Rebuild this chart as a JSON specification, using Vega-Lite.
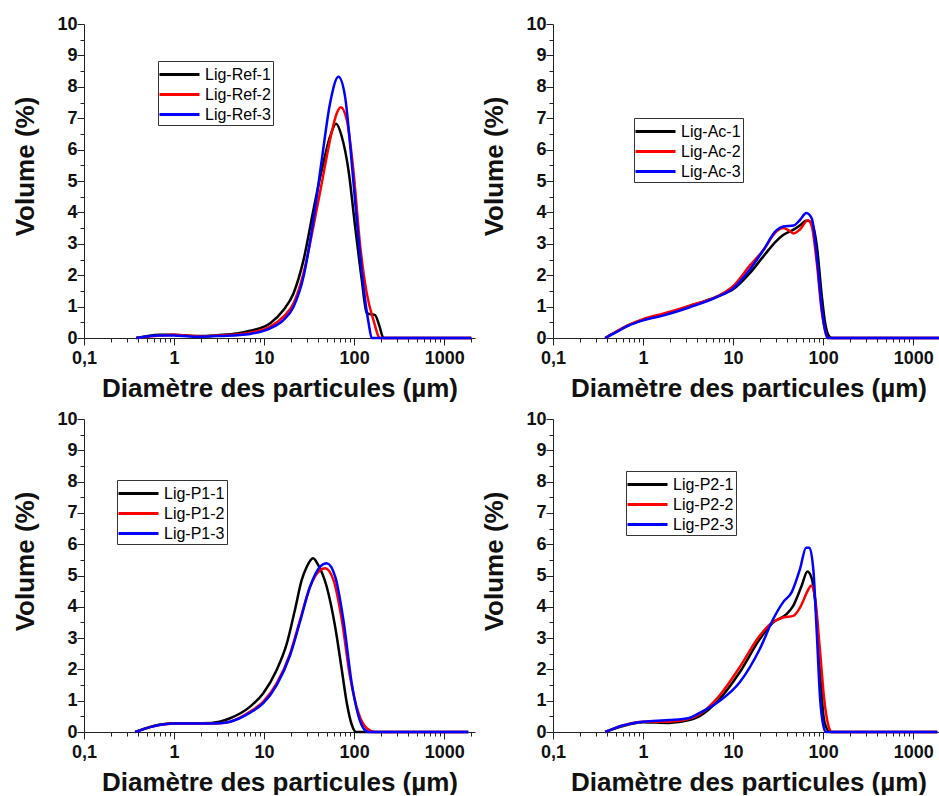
{
"$schema": "https://vega.github.io/schema/vega-lite/v6.json",
"background": "white",
"padding": {"left": 12, "top": 15, "right": 0, "bottom": 0},
"config": {
  "font": "Liberation Sans",
  "view": {"stroke": null},
  "axis": {"grid": false, "domainColor": "#222", "tickColor": "#222", "labelColor": "#111", "titleColor": "#111", "labelFont": "Liberation Sans", "titleFont": "Liberation Sans", "labelFontWeight": "bold", "titleFontWeight": "bold", "labelFontSize": 18, "titleFontSize": 26},
  "legend": {"symbolType": "M-2,0H2", "symbolSize": 400, "symbolStrokeWidth": 3, "symbolOffset": 8, "labelFont": "Liberation Sans", "labelFontSize": 16, "labelColor": "#000", "strokeColor": "#333", "padding": 2, "rowPadding": 0, "labelOffset": 14}
},
"datasets": {"all": [
{"p":"Ref","s":"Lig-Ref-1","d":0.38,"v":0},{"p":"Ref","s":"Lig-Ref-1","d":0.5,"v":0.06},{"p":"Ref","s":"Lig-Ref-1","d":0.7,"v":0.1},{"p":"Ref","s":"Lig-Ref-1","d":1,"v":0.1},{"p":"Ref","s":"Lig-Ref-1","d":1.5,"v":0.07},{"p":"Ref","s":"Lig-Ref-1","d":2,"v":0.06},{"p":"Ref","s":"Lig-Ref-1","d":3,"v":0.09},{"p":"Ref","s":"Lig-Ref-1","d":5,"v":0.14},{"p":"Ref","s":"Lig-Ref-1","d":7,"v":0.23},{"p":"Ref","s":"Lig-Ref-1","d":11.7,"v":0.47},{"p":"Ref","s":"Lig-Ref-1","d":16.4,"v":0.89},{"p":"Ref","s":"Lig-Ref-1","d":21.2,"v":1.42},{"p":"Ref","s":"Lig-Ref-1","d":27.4,"v":2.48},{"p":"Ref","s":"Lig-Ref-1","d":35.3,"v":4.08},{"p":"Ref","s":"Lig-Ref-1","d":43.7,"v":5.35},{"p":"Ref","s":"Lig-Ref-1","d":54,"v":6.41},{"p":"Ref","s":"Lig-Ref-1","d":63,"v":6.82},{"p":"Ref","s":"Lig-Ref-1","d":73,"v":6.41},{"p":"Ref","s":"Lig-Ref-1","d":86.5,"v":5.35},{"p":"Ref","s":"Lig-Ref-1","d":102.6,"v":3.55},{"p":"Ref","s":"Lig-Ref-1","d":121.6,"v":1.85},{"p":"Ref","s":"Lig-Ref-1","d":138,"v":0.79},{"p":"Ref","s":"Lig-Ref-1","d":150,"v":0.76},{"p":"Ref","s":"Lig-Ref-1","d":171,"v":0.73},{"p":"Ref","s":"Lig-Ref-1","d":190,"v":0.4},{"p":"Ref","s":"Lig-Ref-1","d":212,"v":0},{"p":"Ref","s":"Lig-Ref-1","d":300,"v":0},{"p":"Ref","s":"Lig-Ref-1","d":2000,"v":0},
{"p":"Ref","s":"Lig-Ref-2","d":0.38,"v":0},{"p":"Ref","s":"Lig-Ref-2","d":0.5,"v":0.04},{"p":"Ref","s":"Lig-Ref-2","d":0.7,"v":0.08},{"p":"Ref","s":"Lig-Ref-2","d":1,"v":0.1},{"p":"Ref","s":"Lig-Ref-2","d":1.5,"v":0.07},{"p":"Ref","s":"Lig-Ref-2","d":2,"v":0.05},{"p":"Ref","s":"Lig-Ref-2","d":3,"v":0.08},{"p":"Ref","s":"Lig-Ref-2","d":5,"v":0.11},{"p":"Ref","s":"Lig-Ref-2","d":7,"v":0.17},{"p":"Ref","s":"Lig-Ref-2","d":11.7,"v":0.36},{"p":"Ref","s":"Lig-Ref-2","d":16.4,"v":0.68},{"p":"Ref","s":"Lig-Ref-2","d":21.2,"v":1.1},{"p":"Ref","s":"Lig-Ref-2","d":27.4,"v":2.06},{"p":"Ref","s":"Lig-Ref-2","d":35.3,"v":3.55},{"p":"Ref","s":"Lig-Ref-2","d":43.7,"v":4.93},{"p":"Ref","s":"Lig-Ref-2","d":54,"v":6.31},{"p":"Ref","s":"Lig-Ref-2","d":64,"v":7.15},{"p":"Ref","s":"Lig-Ref-2","d":71,"v":7.35},{"p":"Ref","s":"Lig-Ref-2","d":83,"v":6.94},{"p":"Ref","s":"Lig-Ref-2","d":98,"v":5.35},{"p":"Ref","s":"Lig-Ref-2","d":117,"v":2.91},{"p":"Ref","s":"Lig-Ref-2","d":138,"v":1.43},{"p":"Ref","s":"Lig-Ref-2","d":164,"v":0.57},{"p":"Ref","s":"Lig-Ref-2","d":194,"v":0},{"p":"Ref","s":"Lig-Ref-2","d":300,"v":0},{"p":"Ref","s":"Lig-Ref-2","d":2000,"v":0},
{"p":"Ref","s":"Lig-Ref-3","d":0.38,"v":0},{"p":"Ref","s":"Lig-Ref-3","d":0.5,"v":0.05},{"p":"Ref","s":"Lig-Ref-3","d":0.7,"v":0.08},{"p":"Ref","s":"Lig-Ref-3","d":1,"v":0.08},{"p":"Ref","s":"Lig-Ref-3","d":1.5,"v":0.05},{"p":"Ref","s":"Lig-Ref-3","d":2,"v":0.04},{"p":"Ref","s":"Lig-Ref-3","d":3,"v":0.06},{"p":"Ref","s":"Lig-Ref-3","d":5,"v":0.09},{"p":"Ref","s":"Lig-Ref-3","d":7,"v":0.13},{"p":"Ref","s":"Lig-Ref-3","d":11.7,"v":0.31},{"p":"Ref","s":"Lig-Ref-3","d":16.4,"v":0.57},{"p":"Ref","s":"Lig-Ref-3","d":21.2,"v":0.99},{"p":"Ref","s":"Lig-Ref-3","d":27.4,"v":1.95},{"p":"Ref","s":"Lig-Ref-3","d":35.3,"v":3.76},{"p":"Ref","s":"Lig-Ref-3","d":43.7,"v":5.67},{"p":"Ref","s":"Lig-Ref-3","d":54,"v":7.47},{"p":"Ref","s":"Lig-Ref-3","d":67,"v":8.32},{"p":"Ref","s":"Lig-Ref-3","d":79.4,"v":7.68},{"p":"Ref","s":"Lig-Ref-3","d":90,"v":6.2},{"p":"Ref","s":"Lig-Ref-3","d":107,"v":3.76},{"p":"Ref","s":"Lig-Ref-3","d":127,"v":1.63},{"p":"Ref","s":"Lig-Ref-3","d":145,"v":0.47},{"p":"Ref","s":"Lig-Ref-3","d":157,"v":0},{"p":"Ref","s":"Lig-Ref-3","d":300,"v":0},{"p":"Ref","s":"Lig-Ref-3","d":2000,"v":0},
{"p":"Ac","s":"Lig-Ac-1","d":0.38,"v":0},{"p":"Ac","s":"Lig-Ac-1","d":0.5,"v":0.2},{"p":"Ac","s":"Lig-Ac-1","d":0.7,"v":0.42},{"p":"Ac","s":"Lig-Ac-1","d":1,"v":0.58},{"p":"Ac","s":"Lig-Ac-1","d":1.7,"v":0.75},{"p":"Ac","s":"Lig-Ac-1","d":3.3,"v":1.02},{"p":"Ac","s":"Lig-Ac-1","d":6.6,"v":1.32},{"p":"Ac","s":"Lig-Ac-1","d":10,"v":1.55},{"p":"Ac","s":"Lig-Ac-1","d":15.5,"v":2.08},{"p":"Ac","s":"Lig-Ac-1","d":21.7,"v":2.6},{"p":"Ac","s":"Lig-Ac-1","d":30,"v":3.08},{"p":"Ac","s":"Lig-Ac-1","d":36,"v":3.28},{"p":"Ac","s":"Lig-Ac-1","d":47,"v":3.45},{"p":"Ac","s":"Lig-Ac-1","d":55,"v":3.58},{"p":"Ac","s":"Lig-Ac-1","d":66,"v":3.74},{"p":"Ac","s":"Lig-Ac-1","d":75,"v":3.66},{"p":"Ac","s":"Lig-Ac-1","d":85,"v":2.95},{"p":"Ac","s":"Lig-Ac-1","d":97,"v":1.3},{"p":"Ac","s":"Lig-Ac-1","d":105,"v":0.5},{"p":"Ac","s":"Lig-Ac-1","d":114,"v":0.1},{"p":"Ac","s":"Lig-Ac-1","d":125,"v":0},{"p":"Ac","s":"Lig-Ac-1","d":300,"v":0},{"p":"Ac","s":"Lig-Ac-1","d":2200,"v":0},
{"p":"Ac","s":"Lig-Ac-2","d":0.38,"v":0},{"p":"Ac","s":"Lig-Ac-2","d":0.5,"v":0.2},{"p":"Ac","s":"Lig-Ac-2","d":0.7,"v":0.42},{"p":"Ac","s":"Lig-Ac-2","d":1,"v":0.6},{"p":"Ac","s":"Lig-Ac-2","d":1.7,"v":0.78},{"p":"Ac","s":"Lig-Ac-2","d":3.3,"v":1.03},{"p":"Ac","s":"Lig-Ac-2","d":6.6,"v":1.32},{"p":"Ac","s":"Lig-Ac-2","d":10,"v":1.65},{"p":"Ac","s":"Lig-Ac-2","d":15.5,"v":2.32},{"p":"Ac","s":"Lig-Ac-2","d":21.7,"v":2.8},{"p":"Ac","s":"Lig-Ac-2","d":30,"v":3.38},{"p":"Ac","s":"Lig-Ac-2","d":36,"v":3.5},{"p":"Ac","s":"Lig-Ac-2","d":42,"v":3.42},{"p":"Ac","s":"Lig-Ac-2","d":47,"v":3.33},{"p":"Ac","s":"Lig-Ac-2","d":55,"v":3.45},{"p":"Ac","s":"Lig-Ac-2","d":68,"v":3.75},{"p":"Ac","s":"Lig-Ac-2","d":75,"v":3.55},{"p":"Ac","s":"Lig-Ac-2","d":85,"v":2.4},{"p":"Ac","s":"Lig-Ac-2","d":97,"v":0.8},{"p":"Ac","s":"Lig-Ac-2","d":105,"v":0.25},{"p":"Ac","s":"Lig-Ac-2","d":112,"v":0},{"p":"Ac","s":"Lig-Ac-2","d":300,"v":0},{"p":"Ac","s":"Lig-Ac-2","d":2200,"v":0},
{"p":"Ac","s":"Lig-Ac-3","d":0.38,"v":0},{"p":"Ac","s":"Lig-Ac-3","d":0.5,"v":0.18},{"p":"Ac","s":"Lig-Ac-3","d":0.7,"v":0.4},{"p":"Ac","s":"Lig-Ac-3","d":1,"v":0.56},{"p":"Ac","s":"Lig-Ac-3","d":1.7,"v":0.72},{"p":"Ac","s":"Lig-Ac-3","d":3.3,"v":0.98},{"p":"Ac","s":"Lig-Ac-3","d":6.6,"v":1.3},{"p":"Ac","s":"Lig-Ac-3","d":10,"v":1.58},{"p":"Ac","s":"Lig-Ac-3","d":15.5,"v":2.2},{"p":"Ac","s":"Lig-Ac-3","d":21.7,"v":2.8},{"p":"Ac","s":"Lig-Ac-3","d":30,"v":3.42},{"p":"Ac","s":"Lig-Ac-3","d":36,"v":3.55},{"p":"Ac","s":"Lig-Ac-3","d":47,"v":3.58},{"p":"Ac","s":"Lig-Ac-3","d":55,"v":3.75},{"p":"Ac","s":"Lig-Ac-3","d":65,"v":3.98},{"p":"Ac","s":"Lig-Ac-3","d":75,"v":3.8},{"p":"Ac","s":"Lig-Ac-3","d":85,"v":2.6},{"p":"Ac","s":"Lig-Ac-3","d":97,"v":0.9},{"p":"Ac","s":"Lig-Ac-3","d":105,"v":0.25},{"p":"Ac","s":"Lig-Ac-3","d":112,"v":0},{"p":"Ac","s":"Lig-Ac-3","d":300,"v":0},{"p":"Ac","s":"Lig-Ac-3","d":2200,"v":0},
{"p":"P1","s":"Lig-P1-1","d":0.37,"v":0},{"p":"P1","s":"Lig-P1-1","d":0.59,"v":0.19},{"p":"P1","s":"Lig-P1-1","d":1,"v":0.28},{"p":"P1","s":"Lig-P1-1","d":2.1,"v":0.28},{"p":"P1","s":"Lig-P1-1","d":3.2,"v":0.33},{"p":"P1","s":"Lig-P1-1","d":4.19,"v":0.44},{"p":"P1","s":"Lig-P1-1","d":7,"v":0.81},{"p":"P1","s":"Lig-P1-1","d":9.8,"v":1.24},{"p":"P1","s":"Lig-P1-1","d":13.8,"v":1.98},{"p":"P1","s":"Lig-P1-1","d":17.9,"v":2.83},{"p":"P1","s":"Lig-P1-1","d":22,"v":3.9},{"p":"P1","s":"Lig-P1-1","d":26.2,"v":4.86},{"p":"P1","s":"Lig-P1-1","d":29.8,"v":5.28},{"p":"P1","s":"Lig-P1-1","d":35,"v":5.55},{"p":"P1","s":"Lig-P1-1","d":40,"v":5.33},{"p":"P1","s":"Lig-P1-1","d":49.6,"v":4.64},{"p":"P1","s":"Lig-P1-1","d":61.5,"v":3.37},{"p":"P1","s":"Lig-P1-1","d":73,"v":1.98},{"p":"P1","s":"Lig-P1-1","d":83,"v":0.92},{"p":"P1","s":"Lig-P1-1","d":94,"v":0.24},{"p":"P1","s":"Lig-P1-1","d":105,"v":0},{"p":"P1","s":"Lig-P1-1","d":300,"v":0},{"p":"P1","s":"Lig-P1-1","d":1850,"v":0},
{"p":"P1","s":"Lig-P1-2","d":0.37,"v":0},{"p":"P1","s":"Lig-P1-2","d":0.59,"v":0.18},{"p":"P1","s":"Lig-P1-2","d":1,"v":0.27},{"p":"P1","s":"Lig-P1-2","d":2.1,"v":0.27},{"p":"P1","s":"Lig-P1-2","d":3.2,"v":0.28},{"p":"P1","s":"Lig-P1-2","d":4.19,"v":0.33},{"p":"P1","s":"Lig-P1-2","d":7,"v":0.65},{"p":"P1","s":"Lig-P1-2","d":9.8,"v":0.97},{"p":"P1","s":"Lig-P1-2","d":13.8,"v":1.55},{"p":"P1","s":"Lig-P1-2","d":19.5,"v":2.51},{"p":"P1","s":"Lig-P1-2","d":25.1,"v":3.58},{"p":"P1","s":"Lig-P1-2","d":32.4,"v":4.64},{"p":"P1","s":"Lig-P1-2","d":41.9,"v":5.17},{"p":"P1","s":"Lig-P1-2","d":47.6,"v":5.23},{"p":"P1","s":"Lig-P1-2","d":58.9,"v":4.86},{"p":"P1","s":"Lig-P1-2","d":73,"v":3.58},{"p":"P1","s":"Lig-P1-2","d":90,"v":1.77},{"p":"P1","s":"Lig-P1-2","d":112,"v":0.6},{"p":"P1","s":"Lig-P1-2","d":138,"v":0.12},{"p":"P1","s":"Lig-P1-2","d":171,"v":0},{"p":"P1","s":"Lig-P1-2","d":300,"v":0},{"p":"P1","s":"Lig-P1-2","d":1850,"v":0},
{"p":"P1","s":"Lig-P1-3","d":0.37,"v":0},{"p":"P1","s":"Lig-P1-3","d":0.59,"v":0.18},{"p":"P1","s":"Lig-P1-3","d":1,"v":0.27},{"p":"P1","s":"Lig-P1-3","d":2.1,"v":0.27},{"p":"P1","s":"Lig-P1-3","d":3.2,"v":0.28},{"p":"P1","s":"Lig-P1-3","d":4.19,"v":0.33},{"p":"P1","s":"Lig-P1-3","d":7,"v":0.62},{"p":"P1","s":"Lig-P1-3","d":9.8,"v":0.92},{"p":"P1","s":"Lig-P1-3","d":13.8,"v":1.5},{"p":"P1","s":"Lig-P1-3","d":19.5,"v":2.46},{"p":"P1","s":"Lig-P1-3","d":25.1,"v":3.53},{"p":"P1","s":"Lig-P1-3","d":32.4,"v":4.64},{"p":"P1","s":"Lig-P1-3","d":41.9,"v":5.28},{"p":"P1","s":"Lig-P1-3","d":49.6,"v":5.39},{"p":"P1","s":"Lig-P1-3","d":61.5,"v":4.97},{"p":"P1","s":"Lig-P1-3","d":76,"v":3.58},{"p":"P1","s":"Lig-P1-3","d":94,"v":1.56},{"p":"P1","s":"Lig-P1-3","d":112,"v":0.5},{"p":"P1","s":"Lig-P1-3","d":127,"v":0.12},{"p":"P1","s":"Lig-P1-3","d":145,"v":0},{"p":"P1","s":"Lig-P1-3","d":300,"v":0},{"p":"P1","s":"Lig-P1-3","d":1850,"v":0},
{"p":"P2","s":"Lig-P2-1","d":0.38,"v":0},{"p":"P2","s":"Lig-P2-1","d":0.58,"v":0.18},{"p":"P2","s":"Lig-P2-1","d":1,"v":0.31},{"p":"P2","s":"Lig-P2-1","d":1.94,"v":0.29},{"p":"P2","s":"Lig-P2-1","d":3.25,"v":0.38},{"p":"P2","s":"Lig-P2-1","d":4.2,"v":0.5},{"p":"P2","s":"Lig-P2-1","d":7,"v":1.04},{"p":"P2","s":"Lig-P2-1","d":11.8,"v":1.9},{"p":"P2","s":"Lig-P2-1","d":19.8,"v":2.97},{"p":"P2","s":"Lig-P2-1","d":27.9,"v":3.5},{"p":"P2","s":"Lig-P2-1","d":39.3,"v":3.77},{"p":"P2","s":"Lig-P2-1","d":46.7,"v":4.04},{"p":"P2","s":"Lig-P2-1","d":57.9,"v":4.68},{"p":"P2","s":"Lig-P2-1","d":66.9,"v":5.13},{"p":"P2","s":"Lig-P2-1","d":74.8,"v":4.9},{"p":"P2","s":"Lig-P2-1","d":85,"v":3.61},{"p":"P2","s":"Lig-P2-1","d":92.7,"v":1.9},{"p":"P2","s":"Lig-P2-1","d":101,"v":0.5},{"p":"P2","s":"Lig-P2-1","d":108,"v":0.15},{"p":"P2","s":"Lig-P2-1","d":120,"v":0},{"p":"P2","s":"Lig-P2-1","d":300,"v":0},{"p":"P2","s":"Lig-P2-1","d":1850,"v":0},
{"p":"P2","s":"Lig-P2-2","d":0.38,"v":0},{"p":"P2","s":"Lig-P2-2","d":0.58,"v":0.2},{"p":"P2","s":"Lig-P2-2","d":1,"v":0.33},{"p":"P2","s":"Lig-P2-2","d":1.94,"v":0.33},{"p":"P2","s":"Lig-P2-2","d":3.25,"v":0.42},{"p":"P2","s":"Lig-P2-2","d":4.2,"v":0.56},{"p":"P2","s":"Lig-P2-2","d":7,"v":1.15},{"p":"P2","s":"Lig-P2-2","d":11.8,"v":2.06},{"p":"P2","s":"Lig-P2-2","d":19.8,"v":3.08},{"p":"P2","s":"Lig-P2-2","d":27.9,"v":3.52},{"p":"P2","s":"Lig-P2-2","d":36,"v":3.66},{"p":"P2","s":"Lig-P2-2","d":46.7,"v":3.71},{"p":"P2","s":"Lig-P2-2","d":55.5,"v":3.98},{"p":"P2","s":"Lig-P2-2","d":68.8,"v":4.56},{"p":"P2","s":"Lig-P2-2","d":73.6,"v":4.68},{"p":"P2","s":"Lig-P2-2","d":81.6,"v":4.25},{"p":"P2","s":"Lig-P2-2","d":92.7,"v":2.54},{"p":"P2","s":"Lig-P2-2","d":102.8,"v":1.04},{"p":"P2","s":"Lig-P2-2","d":115,"v":0.18},{"p":"P2","s":"Lig-P2-2","d":125,"v":0},{"p":"P2","s":"Lig-P2-2","d":300,"v":0},{"p":"P2","s":"Lig-P2-2","d":1850,"v":0},
{"p":"P2","s":"Lig-P2-3","d":0.38,"v":0},{"p":"P2","s":"Lig-P2-3","d":0.58,"v":0.2},{"p":"P2","s":"Lig-P2-3","d":1,"v":0.33},{"p":"P2","s":"Lig-P2-3","d":1.94,"v":0.38},{"p":"P2","s":"Lig-P2-3","d":3.25,"v":0.45},{"p":"P2","s":"Lig-P2-3","d":4.2,"v":0.6},{"p":"P2","s":"Lig-P2-3","d":7,"v":0.98},{"p":"P2","s":"Lig-P2-3","d":11.8,"v":1.58},{"p":"P2","s":"Lig-P2-3","d":19.8,"v":2.65},{"p":"P2","s":"Lig-P2-3","d":27.9,"v":3.61},{"p":"P2","s":"Lig-P2-3","d":36,"v":4.15},{"p":"P2","s":"Lig-P2-3","d":44.8,"v":4.47},{"p":"P2","s":"Lig-P2-3","d":55.5,"v":5.22},{"p":"P2","s":"Lig-P2-3","d":64.7,"v":5.89},{"p":"P2","s":"Lig-P2-3","d":70.5,"v":5.89},{"p":"P2","s":"Lig-P2-3","d":78.2,"v":5.12},{"p":"P2","s":"Lig-P2-3","d":85,"v":3.18},{"p":"P2","s":"Lig-P2-3","d":92.7,"v":1.04},{"p":"P2","s":"Lig-P2-3","d":101,"v":0.18},{"p":"P2","s":"Lig-P2-3","d":108,"v":0},{"p":"P2","s":"Lig-P2-3","d":300,"v":0},{"p":"P2","s":"Lig-P2-3","d":1850,"v":0}
]},
"data": {"name": "all"},
"columns": 2,
"spacing": {"row": 81, "column": 78},
"bounds": "flush",
"concat": [
{"width": 391, "height": 314, "transform": [{"filter": "datum.p == 'Ref'"}],
 "layer": [
  {"mark": {"type": "point", "opacity": 0},
   "encoding": {
    "x": {"field": "d", "type": "quantitative", "scale": {"type": "log", "domain": [0.1, 2200], "nice": false}, "axis": {"orient": "bottom", "values": [0.2,0.3,0.4,0.5,0.6,0.7,0.8,0.9,2,3,4,5,6,7,8,9,20,30,40,50,60,70,80,90,200,300,400,500,600,700,800,900,2000], "tickSize": 4, "labels": false, "domain": false, "title": null}},
    "y": {"field": "v", "type": "quantitative", "scale": {"domain": [0, 10], "nice": false}, "axis": {"orient": "left", "values": [0.5,1.5,2.5,3.5,4.5,5.5,6.5,7.5,8.5,9.5], "tickSize": 4, "labels": false, "domain": false, "title": null}}
   }},
  {"mark": {"type": "line", "strokeWidth": 2.5, "interpolate": "monotone"},
   "encoding": {
    "x": {"field": "d", "type": "quantitative", "scale": {"type": "log", "domain": [0.1, 2200], "nice": false}, "axis": {"title": "Diamètre des particules (µm)", "orient": "bottom", "values": [0.1,1,10,100,1000], "labelExpr": "datum.value < 1 ? '0,1' : format(datum.value, 'd')", "tickSize": 7, "labelPadding": 4, "titlePadding": 8, "labelFlush": false, "labelOverlap": false}},
    "y": {"field": "v", "type": "quantitative", "scale": {"domain": [0, 10], "nice": false}, "axis": {"title": "Volume (%)", "orient": "left", "values": [0,1,2,3,4,5,6,7,8,9,10], "tickSize": 7, "labelPadding": 0, "titleX": -46, "titleY": 142, "labelOverlap": false}},
    "color": {"field": "s", "type": "nominal", "scale": {"domain": ["Lig-Ref-1","Lig-Ref-2","Lig-Ref-3"], "range": ["#000000","#ff0000","#0000ff"]}, "legend": {"title": null, "orient": "none", "legendX": 74, "legendY": 37}}
   }}
 ],
 "resolve": {"axis": {"x": "independent", "y": "independent"}}
},
{"width": 391, "height": 314, "transform": [{"filter": "datum.p == 'Ac'"}],
 "layer": [
  {"mark": {"type": "point", "opacity": 0},
   "encoding": {
    "x": {"field": "d", "type": "quantitative", "scale": {"type": "log", "domain": [0.1, 2200], "nice": false}, "axis": {"orient": "bottom", "values": [0.2,0.3,0.4,0.5,0.6,0.7,0.8,0.9,2,3,4,5,6,7,8,9,20,30,40,50,60,70,80,90,200,300,400,500,600,700,800,900,2000], "tickSize": 4, "labels": false, "domain": false, "title": null}},
    "y": {"field": "v", "type": "quantitative", "scale": {"domain": [0, 10], "nice": false}, "axis": {"orient": "left", "values": [0.5,1.5,2.5,3.5,4.5,5.5,6.5,7.5,8.5,9.5], "tickSize": 4, "labels": false, "domain": false, "title": null}}
   }},
  {"mark": {"type": "line", "strokeWidth": 2.5, "interpolate": "monotone"},
   "encoding": {
    "x": {"field": "d", "type": "quantitative", "scale": {"type": "log", "domain": [0.1, 2200], "nice": false}, "axis": {"title": "Diamètre des particules (µm)", "orient": "bottom", "values": [0.1,1,10,100,1000], "labelExpr": "datum.value < 1 ? '0,1' : format(datum.value, 'd')", "tickSize": 7, "labelPadding": 4, "titlePadding": 8, "labelFlush": false, "labelOverlap": false}},
    "y": {"field": "v", "type": "quantitative", "scale": {"domain": [0, 10], "nice": false}, "axis": {"title": "Volume (%)", "orient": "left", "values": [0,1,2,3,4,5,6,7,8,9,10], "tickSize": 7, "labelPadding": 0, "titleX": -46, "titleY": 142, "labelOverlap": false}},
    "color": {"field": "s", "type": "nominal", "scale": {"domain": ["Lig-Ac-1","Lig-Ac-2","Lig-Ac-3"], "range": ["#000000","#ff0000","#0000ff"]}, "legend": {"title": null, "orient": "none", "legendX": 81, "legendY": 94}}
   }}
 ],
 "resolve": {"axis": {"x": "independent", "y": "independent"}}
},
{"width": 391, "height": 313, "transform": [{"filter": "datum.p == 'P1'"}],
 "layer": [
  {"mark": {"type": "point", "opacity": 0},
   "encoding": {
    "x": {"field": "d", "type": "quantitative", "scale": {"type": "log", "domain": [0.1, 2200], "nice": false}, "axis": {"orient": "bottom", "values": [0.2,0.3,0.4,0.5,0.6,0.7,0.8,0.9,2,3,4,5,6,7,8,9,20,30,40,50,60,70,80,90,200,300,400,500,600,700,800,900,2000], "tickSize": 4, "labels": false, "domain": false, "title": null}},
    "y": {"field": "v", "type": "quantitative", "scale": {"domain": [0, 10], "nice": false}, "axis": {"orient": "left", "values": [0.5,1.5,2.5,3.5,4.5,5.5,6.5,7.5,8.5,9.5], "tickSize": 4, "labels": false, "domain": false, "title": null}}
   }},
  {"mark": {"type": "line", "strokeWidth": 2.5, "interpolate": "monotone"},
   "encoding": {
    "x": {"field": "d", "type": "quantitative", "scale": {"type": "log", "domain": [0.1, 2200], "nice": false}, "axis": {"title": "Diamètre des particules (µm)", "orient": "bottom", "values": [0.1,1,10,100,1000], "labelExpr": "datum.value < 1 ? '0,1' : format(datum.value, 'd')", "tickSize": 7, "labelPadding": 4, "titlePadding": 8, "labelFlush": false, "labelOverlap": false}},
    "y": {"field": "v", "type": "quantitative", "scale": {"domain": [0, 10], "nice": false}, "axis": {"title": "Volume (%)", "orient": "left", "values": [0,1,2,3,4,5,6,7,8,9,10], "tickSize": 7, "labelPadding": 0, "titleX": -46, "titleY": 142, "labelOverlap": false}},
    "color": {"field": "s", "type": "nominal", "scale": {"domain": ["Lig-P1-1","Lig-P1-2","Lig-P1-3"], "range": ["#000000","#ff0000","#0000ff"]}, "legend": {"title": null, "orient": "none", "legendX": 33, "legendY": 61}}
   }}
 ],
 "resolve": {"axis": {"x": "independent", "y": "independent"}}
},
{"width": 391, "height": 313, "transform": [{"filter": "datum.p == 'P2'"}],
 "layer": [
  {"mark": {"type": "point", "opacity": 0},
   "encoding": {
    "x": {"field": "d", "type": "quantitative", "scale": {"type": "log", "domain": [0.1, 2200], "nice": false}, "axis": {"orient": "bottom", "values": [0.2,0.3,0.4,0.5,0.6,0.7,0.8,0.9,2,3,4,5,6,7,8,9,20,30,40,50,60,70,80,90,200,300,400,500,600,700,800,900,2000], "tickSize": 4, "labels": false, "domain": false, "title": null}},
    "y": {"field": "v", "type": "quantitative", "scale": {"domain": [0, 10], "nice": false}, "axis": {"orient": "left", "values": [0.5,1.5,2.5,3.5,4.5,5.5,6.5,7.5,8.5,9.5], "tickSize": 4, "labels": false, "domain": false, "title": null}}
   }},
  {"mark": {"type": "line", "strokeWidth": 2.5, "interpolate": "monotone"},
   "encoding": {
    "x": {"field": "d", "type": "quantitative", "scale": {"type": "log", "domain": [0.1, 2200], "nice": false}, "axis": {"title": "Diamètre des particules (µm)", "orient": "bottom", "values": [0.1,1,10,100,1000], "labelExpr": "datum.value < 1 ? '0,1' : format(datum.value, 'd')", "tickSize": 7, "labelPadding": 4, "titlePadding": 8, "labelFlush": false, "labelOverlap": false}},
    "y": {"field": "v", "type": "quantitative", "scale": {"domain": [0, 10], "nice": false}, "axis": {"title": "Volume (%)", "orient": "left", "values": [0,1,2,3,4,5,6,7,8,9,10], "tickSize": 7, "labelPadding": 0, "titleX": -46, "titleY": 142, "labelOverlap": false}},
    "color": {"field": "s", "type": "nominal", "scale": {"domain": ["Lig-P2-1","Lig-P2-2","Lig-P2-3"], "range": ["#000000","#ff0000","#0000ff"]}, "legend": {"title": null, "orient": "none", "legendX": 73, "legendY": 52}}
   }}
 ],
 "resolve": {"axis": {"x": "independent", "y": "independent"}}
}
],
"resolve": {"scale": {"color": "independent"}, "legend": {"color": "independent"}}
}
